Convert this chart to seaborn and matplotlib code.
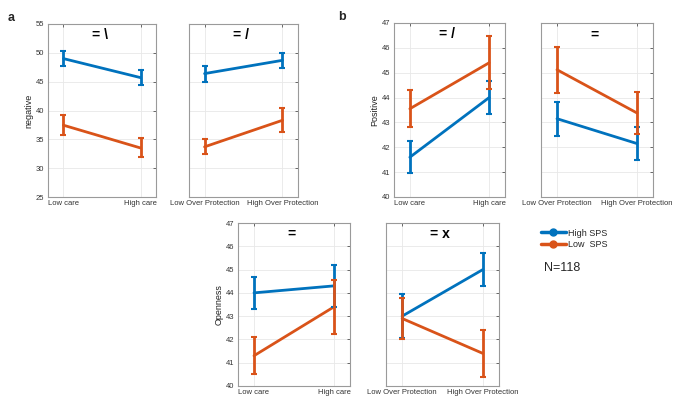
import numpy as np
import pandas as pd
import matplotlib
matplotlib.use("Agg")
import matplotlib.pyplot as plt
import seaborn as sns
from matplotlib.lines import Line2D

# ---- data ----
groups = ["High SPS", "Low  SPS"]
care_levels = ["Low care", "High care"]
prot_levels = ["Low Over Protection", "High Over Protection"]

neg_care_high = [49.0, 45.7]
neg_care_high_err = [1.3, 1.25]
neg_care_low = [37.45, 33.5]
neg_care_low_err = [1.7, 1.65]

neg_prot_high = [46.4, 48.7]
neg_prot_high_err = [1.4, 1.25]
neg_prot_low = [33.7, 38.3]
neg_prot_low_err = [1.3, 2.1]

pos_care_high = [41.6, 44.0]
pos_care_high_err = [0.65, 0.65]
pos_care_low = [43.55, 45.4]
pos_care_low_err = [0.75, 1.07]

pos_prot_high = [43.15, 42.15]
pos_prot_high_err = [0.68, 0.67]
pos_prot_low = [45.12, 43.38]
pos_prot_low_err = [0.92, 0.83]

open_care_high = [44.0, 44.3]
open_care_high_err = [0.7, 0.9]
open_care_low = [41.3, 43.4]
open_care_low_err = [0.8, 1.15]

open_prot_high = [43.0, 45.0]
open_prot_high_err = [0.95, 0.7]
open_prot_low = [42.9, 41.4]
open_prot_low_err = [0.9, 1.0]

titles = ["= \\", "= /", "= /", "=", "=", "= x"]
colors = {"High SPS": "#0072BD", "Low  SPS": "#D95319"}

sns.set_style("whitegrid")
plt.rcParams["font.family"] = ["Liberation Sans", "DejaVu Sans"]

fig = plt.figure(figsize=(6.85, 4.08), dpi=100)
W, H = 685, 408


def make_ax(l, t, r, b):
    return fig.add_axes([l / W, 1 - b / H, (r - l) / W, (b - t) / H])


panels = [
    # (box, levels, high, high_err, low, low_err, ylim, yticks, ylabel, title)
    ((48, 24, 156, 197), care_levels, neg_care_high, neg_care_high_err,
     neg_care_low, neg_care_low_err, (25, 55), range(25, 56, 5), "negative", titles[0]),
    ((189, 24, 298, 197), prot_levels, neg_prot_high, neg_prot_high_err,
     neg_prot_low, neg_prot_low_err, (25, 55), range(25, 56, 5), None, titles[1]),
    ((394, 23, 505, 197), care_levels, pos_care_high, pos_care_high_err,
     pos_care_low, pos_care_low_err, (40, 47), range(40, 48), "Positive", titles[2]),
    ((541, 23, 653, 197), prot_levels, pos_prot_high, pos_prot_high_err,
     pos_prot_low, pos_prot_low_err, (40, 47), range(40, 48), None, titles[3]),
    ((238, 223, 350, 386), care_levels, open_care_high, open_care_high_err,
     open_care_low, open_care_low_err, (40, 47), range(40, 48), "Openness", titles[4]),
    ((386, 223, 499, 386), prot_levels, open_prot_high, open_prot_high_err,
     open_prot_low, open_prot_low_err, (40, 47), range(40, 48), None, titles[5]),
]

for box, levels, hi, hi_err, lo, lo_err, ylim, yticks, ylabel, title in panels:
    ax = make_ax(*box)
    df = pd.DataFrame({
        "x": [0, 1, 0, 1],
        "mean": hi + lo,
        "err": hi_err + lo_err,
        "group": [groups[0]] * 2 + [groups[1]] * 2,
    })
    sns.lineplot(data=df, x="x", y="mean", hue="group", palette=colors,
                 linewidth=2, legend=False, ax=ax)
    for g in groups:
        sub = df[df["group"] == g]
        ax.errorbar(sub["x"], sub["mean"], yerr=sub["err"], fmt="none",
                    ecolor=colors[g], elinewidth=2, capsize=2, capthick=1.5)
    ax.set_xlim(-0.2, 1.2)
    ax.set_ylim(*ylim)
    ax.set_xticks([0, 1])
    ax.set_xticklabels(levels)
    ax.set_yticks(list(yticks))
    ax.set_xlabel("")
    if ylabel:
        ax.set_ylabel(ylabel, fontsize=6.5, labelpad=2, color="#222222")
    else:
        ax.set_ylabel("")
        ax.set_yticklabels([])
    ax.tick_params(direction="in", length=2, width=0.5, top=True, right=True,
                   labelsize=5.5, colors="#333333", pad=2.5)
    ax.grid(True, color="#e8e8e8", linewidth=0.6)
    for s in ax.spines.values():
        s.set_color("#9a9a9a")
        s.set_linewidth(0.8)
    ax.text(0.48, 0.975, title, transform=ax.transAxes, ha="center", va="top",
            fontsize=10, fontweight="bold", color="black")

fig.text(8 / W, 1 - 18 / H, "a", fontsize=9, fontweight="bold", va="center")
fig.text(338 / W, 1 - 17 / H, "b", fontsize=9, fontweight="bold", va="center")

handles = [Line2D([0], [0], color=colors[g], linewidth=2.5, marker="o",
                  markersize=5) for g in groups]
fig.legend(handles, groups, loc="upper left",
           bbox_to_anchor=(537 / W, 1 - 225 / H), frameon=False,
           fontsize=6.5, handlelength=2.8, handletextpad=0.2,
           labelspacing=0.3, borderaxespad=0)
fig.text(544 / W, 1 - 268 / H, "N=118", fontsize=9, va="center")

fig.savefig("out.png", dpi=100)
